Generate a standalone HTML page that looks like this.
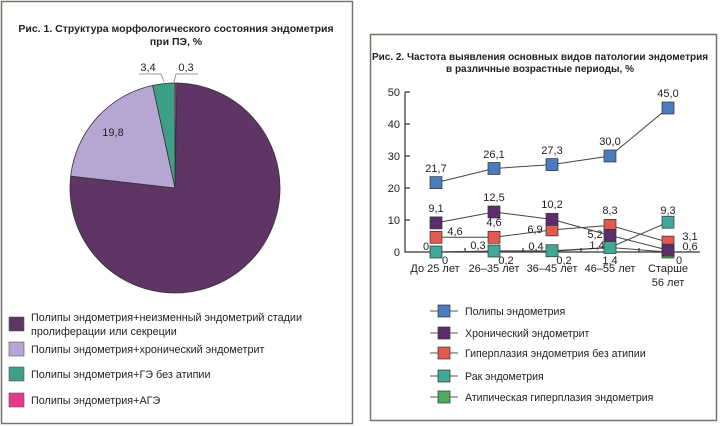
<!DOCTYPE html>
<html><head><meta charset="utf-8"><style>
body{margin:0;background:#fff;}
svg{display:block;font-family:"Liberation Sans","DejaVu Sans",sans-serif;}
</style></head><body>
<svg width="720" height="426" viewBox="0 0 720 426">
<rect x="1.5" y="1.5" width="351" height="422" fill="#fff" stroke="#77736a" stroke-width="1.5"/>
<rect x="370.5" y="34.5" width="346" height="386" fill="#fff" stroke="#77736a" stroke-width="1.5"/>
<g font-weight="bold" font-size="10.5" fill="#222" text-anchor="middle">
<text x="176" y="32">Рис. 1. Структура морфологического состояния эндометрия</text>
<text x="176" y="45">при ПЭ, %</text>
</g>
<g stroke="#333" stroke-width="0.8">
<path d="M175,188 L175,83 A105,105 0 0 1 176.98,83.02 Z" fill="#e0398e"/>
<path d="M175,188 L176.98,83.02 A105,105 0 1 1 70.67,176.15 Z" fill="#5e3565"/>
<path d="M175,188 L70.67,176.15 A105,105 0 0 1 152.74,85.38 Z" fill="#b6a6d4"/>
<path d="M175,188 L152.74,85.38 A105,105 0 0 1 175,83 Z" fill="#3f9e88"/>
</g>
<g stroke="#999" fill="none" stroke-width="1"><path d="M139,74 H161 L164,82"/><path d="M174,82 L176,74 H198"/></g>
<g font-size="11" fill="#222" text-anchor="middle">
<text x="148" y="71">3,4</text><text x="186" y="71">0,3</text>
<text x="113" y="136">19,8</text>
<text x="305" y="280" fill="#fff">76,5</text>
</g>
<g stroke="#555" stroke-width="0.6">
<rect x="9" y="317" width="15" height="14" fill="#5e3565"/>
<rect x="9" y="342" width="15" height="14" fill="#b6a6d4"/>
<rect x="9" y="367" width="15" height="14" fill="#3f9e88"/>
<rect x="9" y="393" width="15" height="14" fill="#e0398e"/>
</g>
<g font-size="10.8" fill="#222">
<text x="31" y="321">Полипы эндометрия+неизменный эндометрий стадии</text>
<text x="31" y="335">пролиферации или секреции</text>
<text x="31" y="353">Полипы эндометрия+хронический эндометрит</text>
<text x="31" y="378">Полипы эндометрия+ГЭ без атипии</text>
<text x="31" y="404">Полипы эндометрия+АГЭ</text>
</g>
<g font-weight="bold" font-size="10" fill="#222" text-anchor="middle">
<text x="540" y="60">Рис. 2. Частота выявления основных видов патологии эндометрия</text>
<text x="540" y="72">в различные возрастные периоды, %</text>
</g>
<g stroke="#333" stroke-width="1.2" fill="none">
<path d="M405,92 V252 H700"/>
<path d="M405,92 H410 M405,124 H410 M405,156 H410 M405,188 H410 M405,220 H410"/>
<path d="M465,252 V248 M523,252 V248 M581,252 V248 M639,252 V248"/>
</g>
<g font-size="11" fill="#222" text-anchor="end">
<text x="400" y="96">50</text><text x="400" y="128">40</text><text x="400" y="160">30</text><text x="400" y="192">20</text><text x="400" y="224">10</text><text x="400" y="256">0</text>
</g>
<g font-size="11" fill="#222" text-anchor="middle">
<text x="435" y="272">До 25 лет</text><text x="494" y="272">26–35 лет</text><text x="552" y="272">36–45 лет</text><text x="610" y="272">46–55 лет</text><text x="668" y="272">Старше</text><text x="668" y="286">56 лет</text>
</g>
<g stroke="#444" stroke-width="1" fill="none">
<polyline points="436,182.6 494,168.5 552,164.6 610,156 668,108"/>
<polyline points="436,222.9 494,212 552,219.4 610,235.4 668,250.1"/>
<polyline points="436,237.3 494,237.3 552,229.9 610,225.4 668,242.1"/>
<polyline points="436,252 494,251 552,250.7 610,247.5 668,222.2"/>
<polyline points="436,252 494,251.4 552,251.4 610,247.5 668,252"/>
</g>
<g stroke="#333" stroke-width="0.7">
<g fill="#4b7cc0"><rect x="430" y="176.6" width="12" height="12"/><rect x="488" y="162.5" width="12" height="12"/><rect x="546" y="158.6" width="12" height="12"/><rect x="604" y="150" width="12" height="12"/><rect x="662" y="102" width="12" height="12"/></g>
<g fill="#4faa5e"><rect x="662" y="246" width="12" height="12"/></g>
<g fill="#e05a50"><rect x="430" y="231.3" width="12" height="12"/><rect x="488" y="231.3" width="12" height="12"/><rect x="546" y="223.9" width="12" height="12"/><rect x="604" y="219.4" width="12" height="12"/><rect x="662" y="236.1" width="12" height="12"/></g>
<g fill="#5b2d6b"><rect x="430" y="216.9" width="12" height="12"/><rect x="488" y="206" width="12" height="12"/><rect x="546" y="213.4" width="12" height="12"/><rect x="604" y="229.4" width="12" height="12"/><rect x="662" y="244.1" width="12" height="12"/></g>
<g fill="#3fa898"><rect x="430" y="246" width="12" height="12"/><rect x="488" y="245" width="12" height="12"/><rect x="546" y="244.7" width="12" height="12"/><rect x="604" y="241.5" width="12" height="12"/><rect x="662" y="216.2" width="12" height="12"/></g>
</g>
<g font-size="11" fill="#222" text-anchor="middle">
<text x="436" y="172">21,7</text><text x="494" y="158">26,1</text><text x="552" y="154">27,3</text><text x="610" y="145">30,0</text><text x="668" y="97">45,0</text>
<text x="436" y="212">9,1</text><text x="494" y="201">12,5</text><text x="552" y="208">10,2</text><text x="610" y="214">8,3</text><text x="668" y="214">9,3</text>
<text x="455" y="235">4,6</text><text x="494" y="226">4,6</text><text x="535" y="233">6,9</text><text x="595" y="238">5,2</text><text x="690" y="240">3,1</text><text x="690" y="250">0,6</text>
<text x="426" y="250">0</text><text x="478" y="249">0,3</text><text x="536" y="250">0,4</text><text x="597" y="249">1,4</text>
<text x="445" y="264">0</text><text x="506" y="264">0,2</text><text x="564" y="264">0,2</text><text x="610" y="264">1,4</text><text x="679" y="264">0</text>
</g>
<g stroke="#555" stroke-width="1"><path d="M430,311 H458 M430,333 H458 M430,353 H458 M430,376 H458 M430,397 H458"/></g>
<g stroke="#333" stroke-width="0.7">
<rect x="438" y="305" width="12" height="12" fill="#4b7cc0"/>
<rect x="438" y="327" width="12" height="12" fill="#5b2d6b"/>
<rect x="438" y="347" width="12" height="12" fill="#e05a50"/>
<rect x="438" y="370" width="12" height="12" fill="#3fa898"/>
<rect x="438" y="391" width="12" height="12" fill="#4faa5e"/>
</g>
<g font-size="10.6" fill="#222">
<text x="465" y="315">Полипы эндометрия</text>
<text x="465" y="337">Хронический эндометрит</text>
<text x="465" y="357">Гиперплазия эндометрия без атипии</text>
<text x="465" y="380">Рак эндометрия</text>
<text x="465" y="401">Атипическая гиперплазия эндометрия</text>
</g>
</svg>
</body></html>
